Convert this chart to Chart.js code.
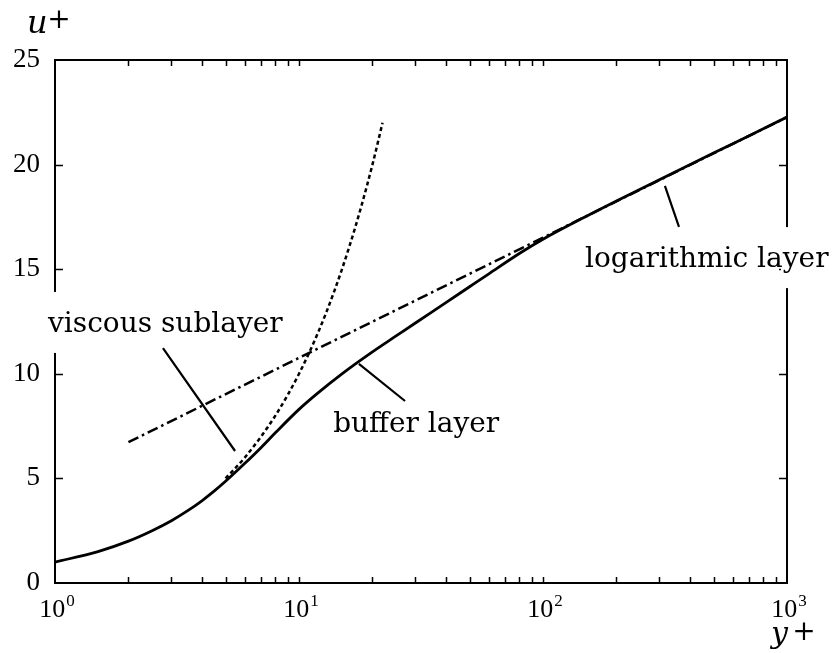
<!DOCTYPE html>
<html><head><meta charset="utf-8">
<script src="https://cdn.jsdelivr.net/npm/chart.js@4"></script>
<style>html,body{margin:0;padding:0;background:#fff}</style>
</head><body>
<canvas id="c" width="836" height="653"></canvas>
<script>
// ---- data ----
const solidX = [1, 1.5, 2, 2.5, 3, 3.5, 4, 4.5, 5, 6, 7, 8, 10, 12, 15, 20, 25, 30, 40, 50, 60, 80, 100, 150, 200, 300, 500, 700, 1000];
const solidU = [1.0, 1.5, 2.0, 2.5, 2.98, 3.46, 3.93, 4.4, 4.86, 5.72, 6.48, 7.18, 8.3, 9.1, 10.0, 11.05, 11.81, 12.43, 13.4, 14.16, 14.78, 15.75, 16.43, 17.52, 18.26, 19.28, 20.55, 21.38, 22.27];
const viscX = [5, 6, 8, 10, 12, 14, 16, 18, 20, 22];
const viscU = [5, 6, 8, 10, 12, 14, 16, 18, 20, 22];
const logX = [2, 10, 100, 1000];
const logU = [6.73, 10.76, 16.51, 22.27];
const xTickValues = [1,2,3,4,5,6,7,8,9,10,20,30,40,50,60,70,80,90,100,200,300,400,500,600,700,800,900,1000];
const xMajor = [1, 10, 100, 1000];
const xLabelBase = ['10', '10', '10', '10'];
const xLabelExp = ['0', '1', '2', '3'];
const yTickValues = [0, 5, 10, 15, 20, 25];
// annotations (data coordinates)
const labelTexts = ['viscous sublayer', 'buffer layer', 'logarithmic layer'];
const labelX = [0.936, 13.8, 148.6];
const labelU = [12.0, 7.22, 15.1];
const leaderX1 = [2.77, 17.6, 316];
const leaderU1 = [11.23, 10.47, 18.98];
const leaderX2 = [5.47, 27.2, 360.8];
const leaderU2 = [6.31, 8.70, 17.02];

const toPts = (xs, us) => xs.map((v, i) => ({x: v, y: us[i]}));
const SERIF = '"DejaVu Serif", "Liberation Serif", serif';
const NUMF = '"Liberation Serif", "DejaVu Serif", serif';

const framePlugin = {
  id: 'frame',
  afterDraw(chart) {
    const ctx = chart.ctx;
    const {left, right, top, bottom} = chart.chartArea;
    const xs = chart.scales.x, ys = chart.scales.y;
    ctx.save();
    ctx.strokeStyle = '#000';
    ctx.fillStyle = '#000';
    ctx.lineWidth = 2;
    ctx.strokeRect(left, top, right - left, bottom - top);
    ctx.lineWidth = 1.5;
    ctx.beginPath();
    xTickValues.forEach(v => {
      if (v === 1 || v === 1000) return;
      const px = Math.round(xs.getPixelForValue(v)) + 0.5;
      ctx.moveTo(px, bottom); ctx.lineTo(px, bottom - 6);
      ctx.moveTo(px, top); ctx.lineTo(px, top + 6);
    });
    yTickValues.forEach(v => {
      if (v === 0 || v === 25) return;
      const py = Math.round(ys.getPixelForValue(v)) + 0.5;
      ctx.moveTo(left, py); ctx.lineTo(left + 8, py);
      ctx.moveTo(right, py); ctx.lineTo(right - 8, py);
    });
    ctx.stroke();
    // x tick labels: 10 with superscript exponent
    ctx.textBaseline = 'alphabetic';
    ctx.textAlign = 'left';
    xMajor.forEach((v, i) => {
      const px = xs.getPixelForValue(v);
      ctx.font = '26px ' + NUMF;
      const wb = ctx.measureText(xLabelBase[i]).width;
      ctx.font = '17px ' + NUMF;
      const we = ctx.measureText(xLabelExp[i]).width;
      const x0 = px + 2 - (wb + we + 1) / 2;
      ctx.font = '26px ' + NUMF;
      ctx.fillText(xLabelBase[i], x0, bottom + 34);
      ctx.font = '17px ' + NUMF;
      ctx.fillText(xLabelExp[i], x0 + wb + 1, bottom + 23);
    });
    // gaps in the frame behind the labels that cross it
    ctx.fillStyle = '#fff';
    [0, 2].forEach(i => {
      const by = ys.getPixelForValue(labelU[i]);
      const ax = i === 0 ? left : right;
      ctx.fillRect(ax - 6, by - 40, 12, 61);
    });
    // labels
    ctx.fillStyle = '#000';
    ctx.font = '28px ' + SERIF;
    labelTexts.forEach((t, i) => {
      ctx.fillText(t, xs.getPixelForValue(labelX[i]), ys.getPixelForValue(labelU[i]));
    });
    // leader lines
    ctx.lineWidth = 2.2;
    ctx.beginPath();
    leaderX1.forEach((v, i) => {
      ctx.moveTo(xs.getPixelForValue(v), ys.getPixelForValue(leaderU1[i]));
      ctx.lineTo(xs.getPixelForValue(leaderX2[i]), ys.getPixelForValue(leaderU2[i]));
    });
    ctx.stroke();
    // axis titles
    ctx.font = 'italic 32px ' + SERIF;
    ctx.fillText('u', left - 28, top - 27);
    ctx.font = '28px ' + SERIF;
    ctx.textAlign = 'center';
    ctx.textBaseline = 'middle';
    ctx.fillText('+', left + 4, top - 39);
    ctx.textAlign = 'left';
    ctx.textBaseline = 'alphabetic';
    ctx.font = 'italic 30px ' + SERIF;
    ctx.fillText('y', right - 16, bottom + 60);
    ctx.font = '28px ' + SERIF;
    ctx.textAlign = 'center';
    ctx.textBaseline = 'middle';
    ctx.fillText('+', right + 17, bottom + 50);
    ctx.restore();
  }
};

new Chart(document.getElementById('c').getContext('2d'), {
  type: 'scatter',
  data: {
    datasets: [
      {data: toPts(solidX, solidU), showLine: true, borderColor: '#000', borderWidth: 2.8, pointRadius: 0, cubicInterpolationMode: 'monotone', fill: false},
      {data: toPts(viscX, viscU), showLine: true, borderColor: '#000', borderWidth: 2.5, borderDash: [4, 3], pointRadius: 0, cubicInterpolationMode: 'monotone', fill: false},
      {data: toPts(logX, logU), showLine: true, borderColor: '#000', borderWidth: 2.5, borderDash: [11, 4, 2.5, 4], pointRadius: 0, fill: false}
    ]
  },
  options: {
    responsive: false,
    animation: false,
    devicePixelRatio: 1,
    layout: {padding: {top: 60, right: 49, left: 0, bottom: 0}},
    plugins: {legend: {display: false}, tooltip: {enabled: false}},
    scales: {
      x: {
        type: 'logarithmic', min: 1, max: 1000,
        grid: {display: false, drawTicks: false}, border: {display: false},
        afterBuildTicks: s => { s.ticks = xTickValues.map(v => ({value: v})); },
        afterFit: s => { s.height = 70; },
        ticks: {display: false, autoSkip: false, maxRotation: 0, minRotation: 0}
      },
      y: {
        type: 'linear', min: 0, max: 25,
        grid: {display: false, drawTicks: false}, border: {display: false},
        afterBuildTicks: s => { s.ticks = yTickValues.map(v => ({value: v})); },
        afterFit: s => { s.width = 55; },
        ticks: {padding: 15, color: '#000', font: {family: NUMF, size: 27}}
      }
    }
  },
  plugins: [framePlugin]
});
</script>
</body></html>
